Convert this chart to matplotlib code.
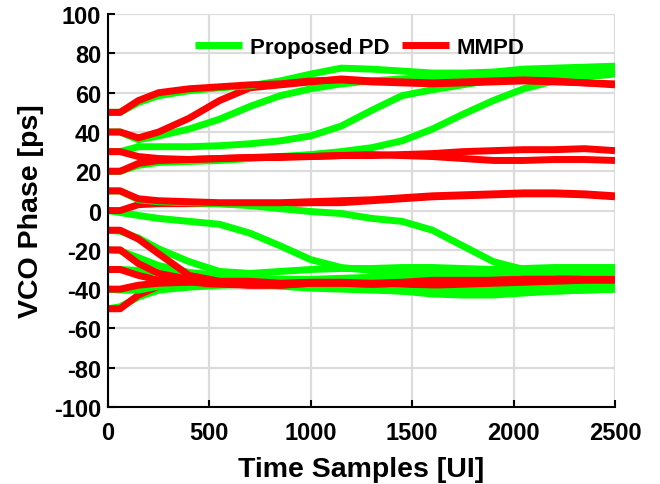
import matplotlib
matplotlib.use('Agg')
import matplotlib.pyplot as plt

# eixo do tempo (UI) onde os valores foram lidos
t = [0, 60, 150, 250, 400, 550, 700, 850, 1000, 1150, 1300, 1450, 1600, 1750, 1900, 2050, 2200, 2350, 2500]

# fase inicial de cada simulacao
fases = [-50, -40, -30, -20, -10, 0, 10, 20, 30, 40, 50]

# Proposed PD (verde)
verde_m50 = [-50, -49, -44, -40.5, -39, -38, -37.5, -37, -37, -38, -39.5, -41, -42.5, -43, -43, -42, -41, -40.5, -40]
verde_m40 = [-40, -40.5, -40.5, -38.5, -37.5, -36, -36, -36.5, -37, -37.5, -38, -38.5, -39, -39.5, -39.5, -39, -38.5, -38.5, -38]
verde_m30 = [-30, -30, -30.5, -31.5, -33, -35, -37, -38.5, -39.5, -40, -40.5, -41, -41.5, -42, -42, -41.5, -41, -40.5, -40]
verde_m20 = [-20, -20.5, -24, -28, -31.5, -33, -34.5, -35, -35, -34.5, -34, -33.5, -33, -33, -33.5, -33, -32.5, -32, -32]
verde_m10 = [-10, -10.5, -14, -19.5, -26, -31, -32, -31, -30, -29.5, -29.5, -29, -29, -29.5, -30, -29.5, -29, -29, -29]
verde_0 = [0, -1, -2.5, -4, -5.5, -7, -11.5, -18, -25, -29, -30.5, -31, -30.5, -30, -30.5, -31, -30.5, -30, -30]
verde_10 = [10, 10, 5.5, 4.5, 4, 3.5, 2.5, 1, -0.5, -1.5, -4, -5.5, -10, -18, -26, -30, -31, -31.5, -31.5]
verde_20 = [20, 20, 23, 24.5, 25, 25.5, 26.5, 27.5, 28.5, 30, 32, 35.5, 41.5, 49, 56, 62, 66, 68, 69.5]
verde_30 = [30, 30, 32.5, 32.5, 32.5, 33, 34, 35.5, 38, 43, 51, 58.5, 61.5, 64, 66.5, 68, 69, 70, 70.5]
verde_40 = [40, 40, 36, 38, 41.5, 46.5, 53, 58.5, 62, 64.5, 66, 67, 68, 68.5, 69.5, 70.5, 71, 71.5, 72]
verde_50 = [50, 50, 55, 58.5, 61, 62.5, 63.5, 66, 69.5, 72.5, 72, 71, 70, 70, 70.5, 72, 72.5, 73, 73.5]

# MMPD (vermelho)
verm_m50 = [-50, -50, -43, -38.5, -37, -37.5, -38, -38, -37, -37, -37.5, -38, -38.5, -38, -37.5, -37, -36.5, -36, -36]
verm_m40 = [-40, -40, -38, -37, -36.5, -37, -37.5, -37.5, -36.5, -36.5, -37, -37.5, -38, -37.5, -37, -36.5, -36, -35.5, -35.5]
verm_m30 = [-30, -30, -33, -35.5, -36, -37, -38, -38, -37, -37, -37.5, -37, -36, -35.5, -36, -35.5, -35, -35, -35]
verm_m20 = [-20, -20, -27, -32, -35, -36.5, -37.5, -38, -37, -37, -37.5, -37, -36, -36, -35.5, -35, -35, -34.5, -34.5]
verm_m10 = [-10, -10, -14.5, -22, -33, -36, -36, -37, -36.5, -36.5, -37, -36.5, -35.5, -35.5, -35.5, -35, -35, -34.5, -34.5]
verm_0 = [0, 0, 3, 3.5, 3.5, 3.5, 3, 3.5, 4, 4, 5, 6, 7, 7.5, 8, 8.5, 8.5, 8, 7]
verm_10 = [10, 10, 6, 5, 4.5, 4, 4, 4, 4.5, 5, 5.5, 6.5, 7.5, 8, 8.5, 9, 9, 8.5, 7.5]
verm_20 = [20, 20, 24, 25.5, 26, 26.5, 27, 27.5, 27.5, 28, 28.5, 28, 27.5, 26.5, 25.5, 25.5, 26, 26, 25.5]
verm_30 = [30, 30, 27.5, 26.5, 26, 26.5, 27, 27, 27.5, 28, 28, 28.5, 29, 30, 30.5, 31, 31, 31.5, 30.5]
verm_40 = [40, 40, 37, 40, 47, 56, 62.5, 64, 65.5, 67, 66, 65.5, 65, 65.5, 66, 66.5, 66, 65, 64.5]
verm_50 = [50, 50, 56, 60, 62, 63, 64, 64.5, 66, 66.5, 65.5, 65, 64.5, 65, 65.5, 66, 65.5, 65, 64]

verdes = [verde_m50, verde_m40, verde_m30, verde_m20, verde_m10, verde_0,
          verde_10, verde_20, verde_30, verde_40, verde_50]
vermelhos = [verm_m50, verm_m40, verm_m30, verm_m20, verm_m10, verm_0,
             verm_10, verm_20, verm_30, verm_40, verm_50]

plt.rcParams['font.family'] = ['Liberation Sans', 'DejaVu Sans']
plt.rcParams['font.weight'] = 'bold'
plt.rcParams['axes.unicode_minus'] = False  # hifen simples nos numeros negativos

fig = plt.figure(figsize=(6.6, 4.85), dpi=100)
ax = fig.add_axes([0.1636, 0.1588, 0.7682, 0.8100])

# desenha verde e vermelho de cada fase inicial, da menor para a maior
for i in range(len(fases)):
    ax.plot(t, verdes[i], color='#00ff00', lw=5, solid_capstyle='butt',
            label='Proposed PD' if i == 0 else None)
    ax.plot(t, vermelhos[i], color='#ff0000', lw=5, solid_capstyle='butt',
            label='MMPD' if i == 0 else None)

ax.set_xlim(0, 2500)
ax.set_ylim(-100, 100)
ax.set_xticks(range(0, 2501, 500))
ax.set_yticks(range(-100, 101, 20))
ax.grid(True, color='#dcdcdc', lw=1.6)
ax.set_axisbelow(True)

for lado in ['top', 'right']:
    ax.spines[lado].set_visible(False)
for lado in ['left', 'bottom']:
    ax.spines[lado].set_linewidth(1.5)

ax.tick_params(direction='in', length=5, width=1.5, labelsize=17)
ax.tick_params(axis='x', pad=10)
ax.tick_params(axis='y', pad=5)
for rot in ax.get_xticklabels() + ax.get_yticklabels():
    rot.set_fontweight('bold')

ax.set_xlabel('Time Samples [UI]', fontsize=20.5, fontweight='bold', labelpad=9)
ax.set_ylabel('VCO Phase [ps]', fontsize=20.5, fontweight='bold', labelpad=7)

leg = ax.legend(loc='center', bbox_to_anchor=(0.497, 0.915), ncol=2, frameon=False,
                fontsize=16, handlelength=2.1, handletextpad=0.35, columnspacing=0.6,
                borderaxespad=0)
for txt in leg.get_texts():
    txt.set_fontweight('bold')

plt.savefig('out.png', dpi=100)
